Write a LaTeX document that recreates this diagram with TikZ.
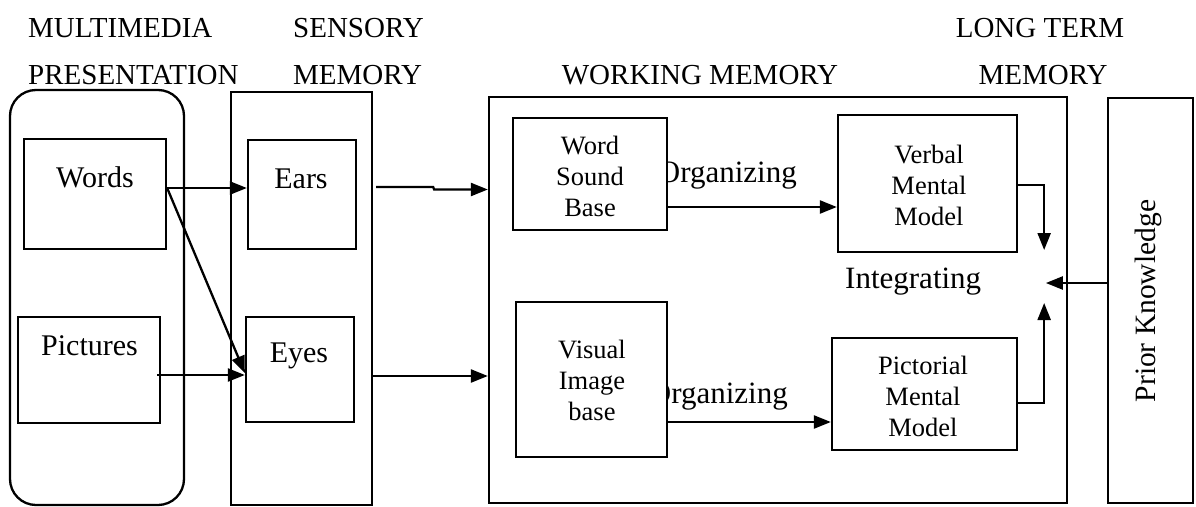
\documentclass[tikz,border=0pt]{standalone}
\usepackage{fontspec}
\setmainfont{Liberation Serif}
\usetikzlibrary{arrows.meta,calc}
\tikzset{
  box/.style={draw, line width=2.3pt, fill=white, inner sep=0pt, rectangle},
  arr/.style={line width=2.3pt, -{Triangle[length=17pt,width=13pt]}},
  hdr/.style={font=\fontsize{29}{34}\selectfont, inner sep=0pt, anchor=base west},
  lbl/.style={font=\fontsize{30}{36}\selectfont, inner sep=0pt, anchor=base},
  btxt/.style={font=\fontsize{26.5}{31}\selectfont, inner sep=0pt, align=center},
  proc/.style={font=\fontsize{31}{36}\selectfont, inner sep=0pt},
}
\begin{document}
\begin{tikzpicture}[x=1pt,y=-1pt]
\useasboundingbox (0,0) rectangle (1196,506);
% headers
\node[hdr] (h1) at (28,37) {MULTIMEDIA};
\node[hdr] (h2) at (28,84) {PRESENTATION};
\node[hdr] (h3) at (293,37) {SENSORY};
\node[hdr] (h4) at (293,84) {MEMORY};
\node[hdr,anchor=base] (h5) at (700,84) {WORKING MEMORY};
\node[hdr,anchor=base] (h6) at (1040,37) {LONG TERM};
\node[hdr,anchor=base] (h7) at (1043,84) {MEMORY};
% containers
\node[box, rounded corners=26pt, minimum width=174pt, minimum height=415pt] (mm) at (97,297.5) {};
\node[box, minimum width=141pt, minimum height=413pt] (sens) at (301.5,298.5) {};
\node[box, minimum width=578pt, minimum height=406pt] (wm) at (778,300) {};
\node[box, minimum width=85pt, minimum height=405pt] (prior) at (1150.5,300.5) {};
\node[font=\fontsize{29.5}{34}\selectfont, rotate=90, inner sep=0pt] (priort) at (1148,301) {Prior Knowledge};
% organizing labels (behind source boxes)
\node[proc, anchor=base east] (org1) at (797,182) {Organizing};
\node[proc, anchor=base east] (org2) at (788,403) {Organizing};
\node[proc, anchor=base west] (integ) at (845,288) {Integrating};
% inner boxes
\node[box, minimum width=142pt, minimum height=110pt] (words) at (95,194) {};
\node[lbl] (wordst) at (95,187) {Words};
\node[box, minimum width=142pt, minimum height=106pt] (pics) at (89,370) {};
\node[lbl] (picst) at (89.5,355) {Pictures};
\node[box, minimum width=108pt, minimum height=109pt] (ears) at (302,194.5) {};
\node[lbl] (earst) at (301,188) {Ears};
\node[box, minimum width=108pt, minimum height=105pt] (eyes) at (300,369.5) {};
\node[lbl] (eyest) at (299,362) {Eyes};
\node[box, minimum width=154pt, minimum height=112pt] (wsb) at (590,174) {};
\node[btxt] (wsbt) at (590,176) {Word\\Sound\\Base};
\node[box, minimum width=151pt, minimum height=155pt] (vib) at (591.5,379.5) {};
\node[btxt] (vibt) at (592,380) {Visual\\Image\\base};
\node[box, minimum width=179pt, minimum height=137pt] (verbal) at (927.5,183.5) {};
\node[btxt] (verbalt) at (929,185) {Verbal\\Mental\\Model};
\node[box, minimum width=185pt, minimum height=112pt] (pict) at (924.5,394) {};
\node[btxt] (pictt) at (923,396) {Pictorial\\Mental\\Model};
% connectors
\draw[arr] ($(words.east)+(0,-6)$) -- ($(ears.west)+(0,-6.5)$);
\draw[arr] ($(words.east)+(0,-6)$) -- ($(eyes.west)+(0,3.5)$);
\draw[arr] ($(pics.east)+(-4,5)$) -- ($(eyes.west)+(0,5.5)$);
\draw[arr] ($(sens.east |- ears.east)+(3,-7.5)$) -- ++(57,0) -- ++(1,2.5) -- ($(wm.west |- ears.east)+(0,-5)$);
\draw[arr] ($(sens.east |- eyes.east)+(0,6.5)$) -- ($(wm.west |- eyes.east)+(0,6.5)$);
\draw[arr] ($(wsb.east)+(0,33)$) -- ($(verbal.west |- wsb.east)+(0,33)$);
\draw[arr] ($(vib.east)+(0,42.5)$) -- ($(pict.west |- vib.east)+(0,42.5)$);
\draw[arr] ($(verbal.east)+(0,1.5)$) -- ++(26,0) -- ++(0,65);
\draw[arr] ($(pict.east)+(0,9)$) -- ++(26,0) -- ++(0,-100);
\draw[arr] ($(prior.west)+(0,-17.5)$) -- ++(-61,0);
\end{tikzpicture}
\end{document}
